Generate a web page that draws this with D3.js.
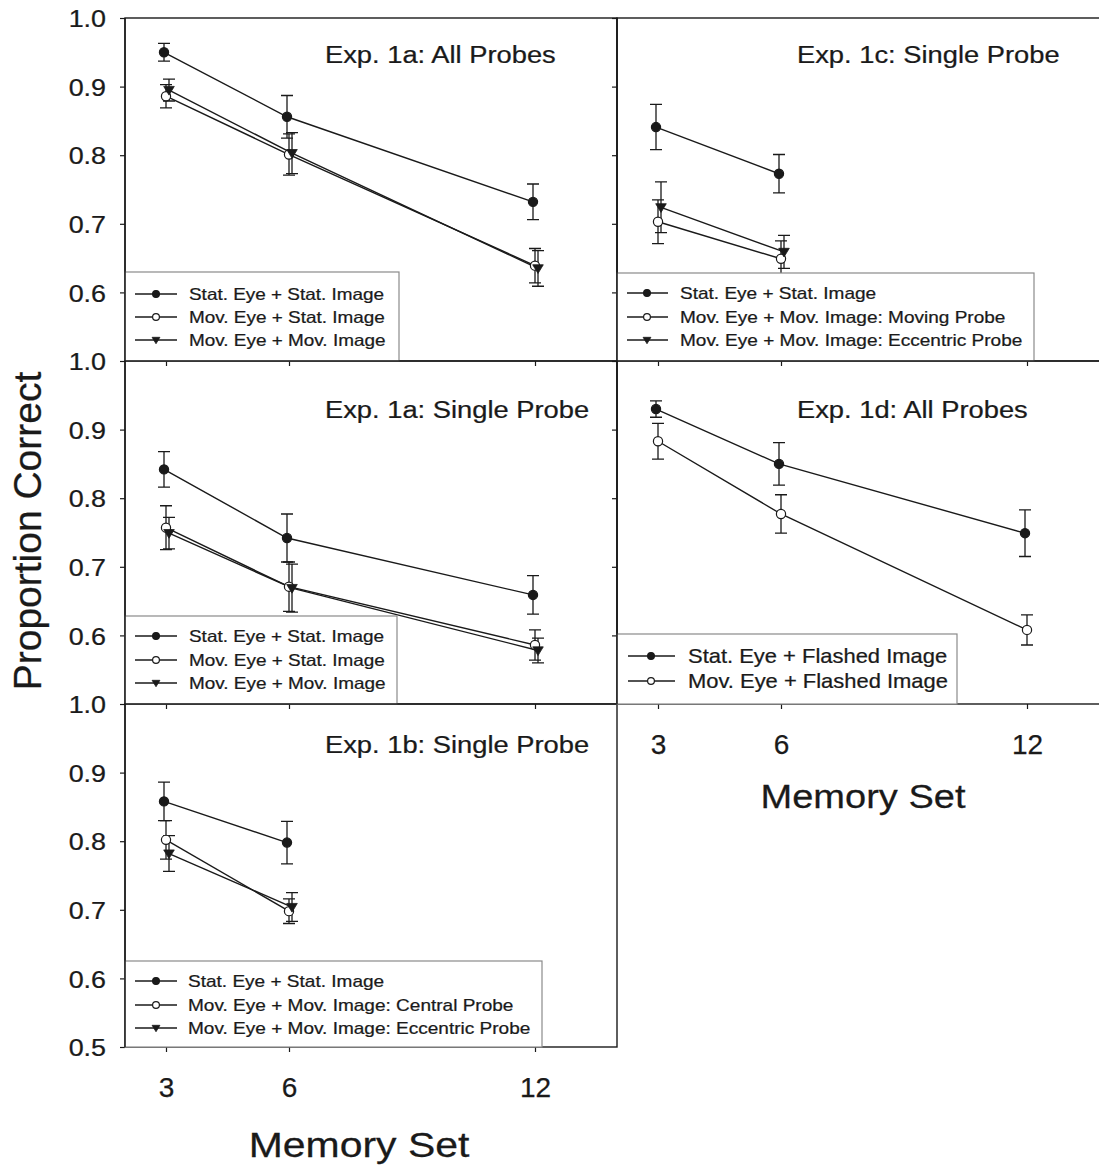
<!DOCTYPE html>
<html><head><meta charset="utf-8">
<script src="https://cdn.jsdelivr.net/npm/d3@7"></script>
<style>
html,body{margin:0;padding:0;background:#fff;}
svg{display:block;font-family:"Liberation Sans",Arial,sans-serif;}
svg text{stroke:#1a1a1a;stroke-width:0.25px;}
</style></head>
<body><svg id="chart" width="1099" height="1166"></svg>
<script>
// ---------- data ----------
const memorySet3 = [3, 6, 12];
const memorySet2 = [3, 6];
const yTicksTop = [0.6, 0.7, 0.8, 0.9, 1.0];
const yTicksBottom = [0.5, 0.6, 0.7, 0.8, 0.9, 1.0];

// Exp. 1a: All Probes
const a1Stat = [0.950, 0.856, 0.732], a1StatErr = [0.013, 0.031, 0.026];
const a1MovStat = [0.886, 0.801, 0.639], a1MovStatErr = [0.017, 0.030, 0.025];
const a1MovMov = [0.895, 0.803, 0.635], a1MovMovErr = [0.016, 0.030, 0.026];
// Exp. 1a: Single Probe
const a2Stat = [0.842, 0.742, 0.659], a2StatErr = [0.026, 0.035, 0.028];
const a2MovStat = [0.757, 0.671, 0.586], a2MovStatErr = [0.032, 0.036, 0.022];
const a2MovMov = [0.749, 0.669, 0.578], a2MovMovErr = [0.023, 0.035, 0.018];
// Exp. 1b: Single Probe
const bStat = [0.858, 0.798], bStatErr = [0.028, 0.031];
const bCentral = [0.802, 0.698], bCentralErr = [0.028, 0.018];
const bEccentric = [0.782, 0.704], bEccentricErr = [0.026, 0.021];
// Exp. 1c: Single Probe
const cStat = [0.841, 0.773], cStatErr = [0.033, 0.028];
const cMoving = [0.703, 0.649], cMovingErr = [0.032, 0.026];
const cEccentric = [0.724, 0.659], cEccentricErr = [0.037, 0.024];
// Exp. 1d: All Probes
const dStat = [0.930, 0.850, 0.749], dStatErr = [0.012, 0.031, 0.034];
const dMov = [0.883, 0.777, 0.608], dMovErr = [0.026, 0.028, 0.022];

const lblStatStat = "Stat. Eye + Stat. Image";
const lblMovStat = "Mov. Eye + Stat. Image";
const lblMovMov = "Mov. Eye + Mov. Image";

// ---------- panel configuration ----------
const panels = [
  {col:0, row:0, title:"Exp. 1a: All Probes", xs:memorySet3, yTicks:yTicksTop, xLabels:false,
   series:[{n:lblStatStat,v:a1Stat,e:a1StatErr,m:"fill"},{n:lblMovStat,v:a1MovStat,e:a1MovStatErr,m:"open"},{n:lblMovMov,v:a1MovMov,e:a1MovMovErr,m:"tri"}],
   leg:{w:274,h:89,rows:[22,45,68],fs:16.9,l0:10,l1:52,mk:31,tx:64}},
  {col:0, row:1, title:"Exp. 1a: Single Probe", xs:memorySet3, yTicks:yTicksTop, xLabels:false,
   series:[{n:lblStatStat,v:a2Stat,e:a2StatErr,m:"fill"},{n:lblMovStat,v:a2MovStat,e:a2MovStatErr,m:"open"},{n:lblMovMov,v:a2MovMov,e:a2MovMovErr,m:"tri"}],
   leg:{w:272,h:88,rows:[20,44,67],fs:16.9,l0:10,l1:52,mk:31,tx:64}},
  {col:0, row:2, title:"Exp. 1b: Single Probe", xs:memorySet2, yTicks:yTicksBottom, xLabels:true, xTitleSize:35, xTitleDx:-12,
   series:[{n:lblStatStat,v:bStat,e:bStatErr,m:"fill"},{n:"Mov. Eye + Mov. Image: Central Probe",v:bCentral,e:bCentralErr,m:"open"},{n:"Mov. Eye + Mov. Image: Eccentric Probe",v:bEccentric,e:bEccentricErr,m:"tri"}],
   leg:{w:417,h:86,rows:[20,44,67],fs:17,l0:10,l1:52,mk:31,tx:63}},
  {col:1, row:0, title:"Exp. 1c: Single Probe", xs:memorySet2, yTicks:yTicksTop, xLabels:false,
   series:[{n:lblStatStat,v:cStat,e:cStatErr,m:"fill"},{n:"Mov. Eye + Mov. Image: Moving Probe",v:cMoving,e:cMovingErr,m:"open"},{n:"Mov. Eye + Mov. Image: Eccentric Probe",v:cEccentric,e:cEccentricErr,m:"tri"}],
   leg:{w:417,h:88,rows:[20,44,67],fs:17,l0:10,l1:51,mk:30,tx:63}},
  {col:1, row:1, title:"Exp. 1d: All Probes", xs:memorySet3, yTicks:yTicksTop, xLabels:true, xTitleSize:32.5, xTitleDx:0,
   series:[{n:"Stat. Eye + Flashed Image",v:dStat,e:dStatErr,m:"fill"},{n:"Mov. Eye + Flashed Image",v:dMov,e:dMovErr,m:"open"}],
   leg:{w:340,h:70,rows:[22,47],fs:19.6,l0:11,l1:58,mk:34,tx:71}}
];

// ---------- layout ----------
const colLeft = [125, 617], panelW = 492;
const rowTop = [18, 361, 704], panelH = 343;
const SX = 1.12;            // horizontal stretch of the original figure's text
const INK = "#1a1a1a";
const markerDx = {fill:-2, open:0, tri:3};

const svg = d3.select("#chart");

function stretchedText(g, x, y, s, size, anchor, sx, extra) {
  const t = g.append("text")
    .attr("transform", `translate(${x},${y}) scale(${sx},1)`)
    .attr("text-anchor", anchor)
    .attr("font-size", size)
    .attr("fill", INK)
    .text(s);
  if (extra) extra(t);
  return t;
}

function drawMarker(g, type, cx, cy, r) {
  if (type === "tri") {
    const w = r * 1.15, h = r * 1.05;
    g.append("path")
      .attr("d", `M${cx - w},${cy - h * 0.75}L${cx + w},${cy - h * 0.75}L${cx},${cy + h * 1.05}Z`)
      .attr("fill", INK).attr("stroke", INK).attr("stroke-width", 0.8);
  } else {
    g.append("circle").attr("cx", cx).attr("cy", cy).attr("r", r)
      .attr("fill", type === "fill" ? INK : "#fff")
      .attr("stroke", INK).attr("stroke-width", 1.2);
  }
}

panels.forEach(p => {
  const x0 = colLeft[p.col], y0 = rowTop[p.row];
  const x = d3.scaleLinear().domain([2, 14]).range([x0, x0 + panelW]);
  const y = d3.scaleLinear().domain([0.5, 1.0]).range([y0 + panelH, y0]);
  const g = svg.append("g");

  // y axis
  const yAx = g.append("g").attr("transform", `translate(${x0},0)`)
    .call(d3.axisLeft(y).tickValues(p.yTicks).tickSize(5)
      .tickFormat(p.col === 0 ? d3.format(".1f") : () => ""));
  yAx.select(".domain").remove();
  yAx.selectAll("line").attr("stroke", INK).attr("stroke-width", 1.2);
  yAx.selectAll("text").attr("x", null).attr("dy", "0.36em")
    .attr("transform", `translate(-19,0) scale(${SX},1)`)
    .attr("font-size", 24).attr("fill", INK).attr("font-family", null);

  // x axis
  const xAx = g.append("g").attr("transform", `translate(0,${y0 + panelH})`)
    .call(d3.axisBottom(x).tickValues(memorySet3).tickSize(5)
      .tickFormat(p.xLabels ? d3.format("d") : () => ""));
  xAx.select(".domain").remove();
  xAx.selectAll("line").attr("stroke", INK).attr("stroke-width", 1.2);
  xAx.selectAll("text").attr("y", 30).attr("dy", "0.71em")
    .attr("font-size", 28).attr("fill", INK).attr("font-family", null);

  if (p.xLabels) {
    stretchedText(g, x0 + panelW / 2 + p.xTitleDx, y0 + panelH + (p.row === 2 ? 110 : 104),
      "Memory Set", p.xTitleSize, "middle", 1.17);
  }

  // frame
  g.append("rect").attr("x", x0).attr("y", y0).attr("width", panelW).attr("height", panelH)
    .attr("fill", "none").attr("stroke", INK).attr("stroke-width", 1.4);

  // title
  stretchedText(g, x0 + (p.col === 0 ? 200 : 180), y0 + (p.row === 0 ? 45 : p.row === 1 ? 57 : 49),
    p.title, 24.4, "start", SX);

  // series
  const line = d3.line();
  p.series.forEach(s => {
    const dx = markerDx[s.m];
    const pts = p.xs.map((xv, i) => [x(xv) + dx, y(s.v[i])]);
    g.append("path").attr("d", line(pts)).attr("fill", "none")
      .attr("stroke", INK).attr("stroke-width", 1.4);
  });
  p.series.forEach(s => {
    const dx = markerDx[s.m];
    p.xs.forEach((xv, i) => {
      const cx = x(xv) + dx;
      const yt = y(s.v[i] + s.e[i]), yb = y(s.v[i] - s.e[i]);
      g.append("path")
        .attr("d", `M${cx},${yt}V${yb}M${cx - 6},${yt}H${cx + 6}M${cx - 6},${yb}H${cx + 6}`)
        .attr("stroke", INK).attr("stroke-width", 1.3).attr("fill", "none");
    });
  });
  p.series.forEach(s => {
    const dx = markerDx[s.m];
    p.xs.forEach((xv, i) => drawMarker(g, s.m, x(xv) + dx, y(s.v[i]), 4.6));
  });

  // legend
  const L = p.leg;
  const ly = y0 + panelH - L.h;
  const lg = g.append("g");
  lg.append("rect").attr("x", x0).attr("y", ly).attr("width", L.w).attr("height", L.h)
    .attr("fill", "#fff").attr("stroke", "#8a8a8a").attr("stroke-width", 1.2);
  p.series.forEach((s, i) => {
    const ry = ly + L.rows[i];
    lg.append("line").attr("x1", x0 + L.l0).attr("x2", x0 + L.l1).attr("y1", ry).attr("y2", ry)
      .attr("stroke", INK).attr("stroke-width", 1.3);
    drawMarker(lg, s.m, x0 + L.mk, ry, 3.4);
    stretchedText(lg, x0 + L.tx, ry, s.n, L.fs, "start", SX, t => t.attr("dy", "0.36em"));
  });
  // left frame edge stays dark on top of the legend
  g.append("line").attr("x1", x0).attr("x2", x0).attr("y1", y0).attr("y2", y0 + panelH)
    .attr("stroke", INK).attr("stroke-width", 1.4);
});

// y axis title
svg.append("text")
  .attr("transform", "translate(41,531) rotate(-90)")
  .attr("text-anchor", "middle").attr("font-size", 39).attr("fill", INK)
  .text("Proportion Correct");
</script>
</body></html>
